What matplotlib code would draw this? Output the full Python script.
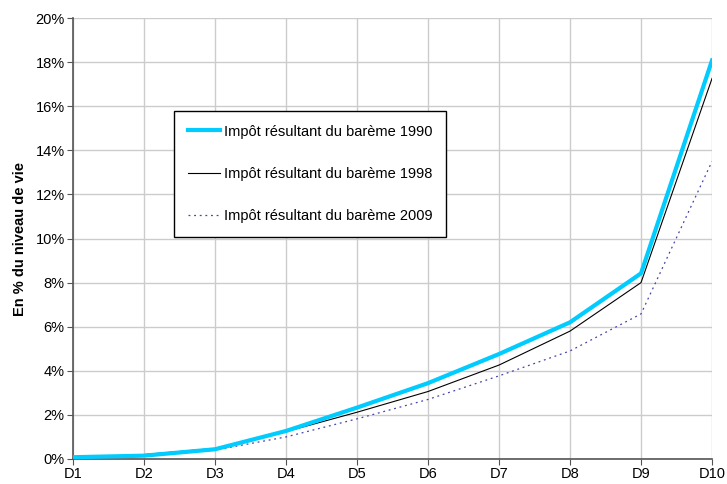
import numpy as np
import matplotlib.pyplot as plt
from matplotlib.ticker import PercentFormatter

plt.rcParams['font.family'] = ['Liberation Sans', 'DejaVu Sans']

deciles = ["D1", "D2", "D3", "D4", "D5", "D6", "D7", "D8", "D9", "D10"]

# Impôt en % du niveau de vie, par décile
bareme_1990 = [0.08, 0.15, 0.44, 1.27, 2.33, 3.44, 4.76, 6.20, 8.42, 18.08]
bareme_1998 = [0.06, 0.20, 0.48, 1.24, 2.12, 3.06, 4.26, 5.80, 8.00, 17.26]
bareme_2009 = [0.03, 0.13, 0.40, 1.00, 1.82, 2.70, 3.77, 4.90, 6.58, 13.50]

fig = plt.figure(figsize=(7.27, 4.84), dpi=100)
ax = fig.add_axes([0.1004, 0.0517, 0.879, 0.911])

x = np.arange(len(deciles))
ax.plot(x, bareme_1990, color='#00CCFF', lw=3, label='Impôt résultant du barème 1990', zorder=4)
ax.plot(x, bareme_1998, color='black', lw=0.8, label='Impôt résultant du barème 1998', zorder=3)
ax.plot(x, bareme_2009, color='#4444AA', lw=0.9, ls=(0, (1.5, 3)), label='Impôt résultant du barème 2009', zorder=2)

ax.set_xlim(0, 9)
ax.set_ylim(0, 20)
ax.set_xticks(x)
ax.set_xticklabels(deciles)
ax.set_yticks(np.arange(0, 21, 2))
ax.yaxis.set_major_formatter(PercentFormatter(decimals=0))
ax.tick_params(labelsize=10.5, length=4, color='#555555', pad=2)

ax.grid(True, color='#CCCCCC', lw=1)
ax.set_axisbelow(True)
for s in ['top', 'right']:
    ax.spines[s].set_visible(False)
for s in ['left', 'bottom']:
    ax.spines[s].set_color('#555555')
    ax.spines[s].set_linewidth(1.2)

ax.set_ylabel('En % du niveau de vie', fontsize=10.5, fontweight='bold', labelpad=6)

leg = ax.legend(loc='upper left', bbox_to_anchor=(0.158, 0.79), borderaxespad=0,
                fontsize=10.5, frameon=True, fancybox=False, handlelength=2.2,
                labelspacing=1.95, borderpad=0.95, handletextpad=0.25)
leg.get_frame().set_edgecolor('black')
leg.get_frame().set_linewidth(1)
leg.get_frame().set_alpha(1)

fig.savefig('out.png', dpi=100)
